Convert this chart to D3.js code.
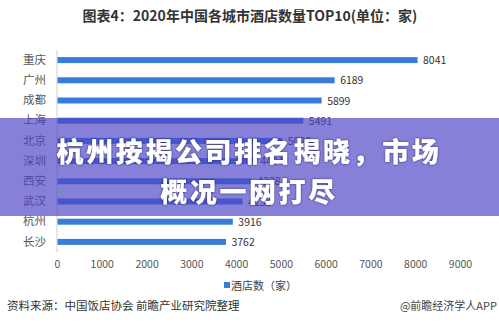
<!DOCTYPE html>
<html>
<head>
<meta charset="utf-8">
<script src="https://cdn.jsdelivr.net/npm/d3@7"></script>
<style>
  html, body { margin: 0; padding: 0; background: #fff; }
  svg { display: block; }
</style>
</head>
<body>
<svg id="chart" width="499" height="334"></svg>
<script>
// Hotel counts per city, 2020 (top 10)
const cities = ["重庆", "广州", "成都", "上海", "北京", "深圳", "西安", "武汉", "杭州", "长沙"];
const hotels = [8041, 6189, 5899, 5491, 5020, 4404, 4338, 4133, 3916, 3762];
const tickValues = [0, 1000, 2000, 3000, 4000, 5000, 6000, 7000, 8000, 9000];
const titleText = "图表4：2020年中国各城市酒店数量TOP10(单位：家)";
const legendText = "酒店数（家）";
const sourceText = "资料来源：中国饭店协会 前瞻产业研究院整理";
const brandText = "@前瞻经济学人APP";
const bannerLines = ["杭州按揭公司排名揭晓，市场", "概况一网打尽"];

const data = cities.map((c, i) => ({ city: c, value: hotels[i] }));
const font = "'Microsoft YaHei', 'Noto Sans CJK SC', sans-serif";

const svg = d3.select("#chart");

const x = d3.scaleLinear().domain([0, 9000]).range([57, 460]);
const y = d3.scaleBand().domain(cities).range([50, 252]).paddingInner(0.7).paddingOuter(0.35);

// Title
svg.append("text")
  .attr("x", 250).attr("y", 21)
  .attr("text-anchor", "middle")
  .attr("font-family", font).attr("font-size", 14).attr("font-weight", "bold")
  .attr("fill", "#333")
  .text(titleText);

// Value axis line
svg.append("line")
  .attr("x1", x(0)).attr("x2", x(0))
  .attr("y1", 50).attr("y2", 252)
  .attr("stroke", "#cfcfcf").attr("stroke-width", 1);

// Bars
svg.append("g").selectAll("rect").data(data).join("rect")
  .attr("x", x(0) + 0.5)
  .attr("y", d => y(d.city) + y.bandwidth() / 2 - 3)
  .attr("width", d => x(d.value) - x(0))
  .attr("height", 6)
  .attr("fill", "#3a7dd8");

// Value labels
svg.append("g").selectAll("text").data(data).join("text")
  .attr("x", d => x(d.value) + 6)
  .attr("y", d => y(d.city) + y.bandwidth() / 2 + 4)
  .attr("font-family", font).attr("font-size", 10.5)
  .attr("fill", "#333")
  .text(d => d.value);

// Category axis labels
const yAxis = d3.axisLeft(y).tickSize(0).tickPadding(11);
const gy = svg.append("g").attr("transform", `translate(${x(0)},0)`).call(yAxis);
gy.select(".domain").remove();
gy.selectAll("text")
  .attr("font-family", font).attr("font-size", 11.5)
  .attr("fill", "#555");

// Value axis tick labels
const xAxis = d3.axisBottom(x).tickValues(tickValues).tickSize(0).tickPadding(0).tickFormat(d3.format("d"));
const gx = svg.append("g").attr("transform", "translate(0,261)").call(xAxis);
gx.select(".domain").remove();
gx.selectAll("text")
  .attr("font-family", font).attr("font-size", 10.5)
  .attr("fill", "#555");

// Legend
svg.append("rect")
  .attr("x", 224).attr("y", 282).attr("width", 6).attr("height", 6)
  .attr("fill", "#3a7dd8");
svg.append("text")
  .attr("x", 231).attr("y", 290)
  .attr("font-family", font).attr("font-size", 11)
  .attr("fill", "#444")
  .text(legendText);

// Source and brand
svg.append("text")
  .attr("x", 7).attr("y", 310)
  .attr("font-family", font).attr("font-size", 11.5)
  .attr("fill", "#333")
  .text(sourceText);
svg.append("text")
  .attr("x", 497).attr("y", 310)
  .attr("text-anchor", "end")
  .attr("font-family", font).attr("font-size", 11)
  .attr("fill", "#444")
  .text(brandText);

// Headline banner across the middle
svg.append("rect")
  .attr("x", 0).attr("y", 118).attr("width", 499).attr("height", 98)
  .attr("fill", "rgb(76,67,197)").attr("fill-opacity", 0.675);

const defs = svg.append("defs");
const shadow = defs.append("filter").attr("id", "ts").attr("x", "-10%").attr("y", "-30%").attr("width", "120%").attr("height", "160%");
shadow.append("feDropShadow").attr("dx", 0).attr("dy", 0).attr("stdDeviation", 1.2)
  .attr("flood-color", "#1a1440").attr("flood-opacity", 0.8);

svg.append("g").attr("filter", "url(#ts)").selectAll("text").data(bannerLines).join("text")
  .attr("x", 249)
  .attr("y", (d, i) => 162 + i * 40)
  .attr("text-anchor", "middle")
  .attr("font-family", "'Noto Sans CJK SC', sans-serif")
  .attr("font-size", 27).attr("font-weight", 900)
  .attr("letter-spacing", 2.6)
  .attr("fill", "#fff")
  .text(d => d);
</script>
</body>
</html>
